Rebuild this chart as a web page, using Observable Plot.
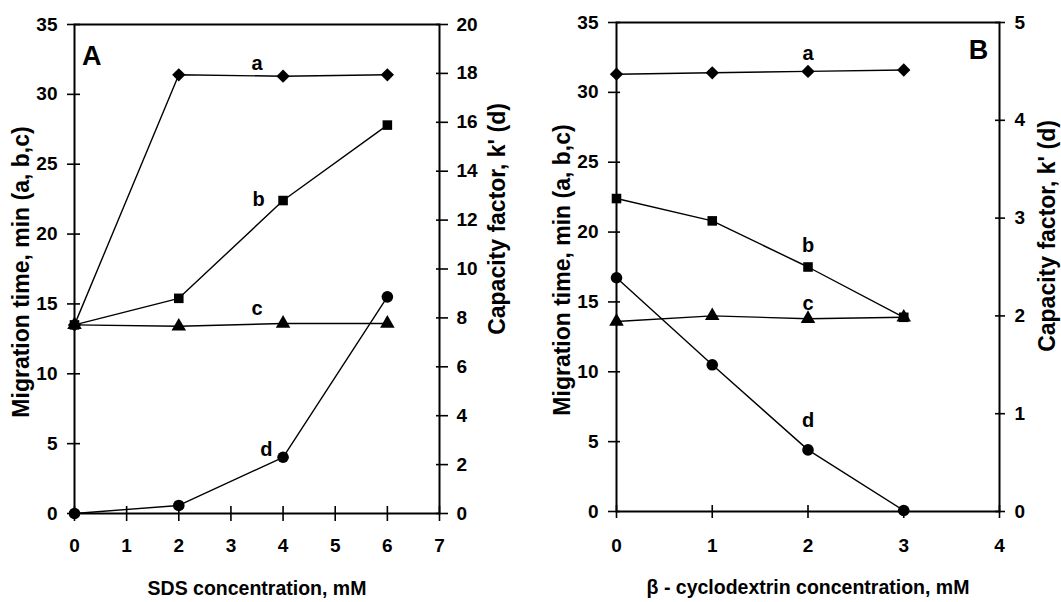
<!DOCTYPE html>
<html><head><meta charset="utf-8">
<script src="https://cdn.jsdelivr.net/npm/d3@7"></script>
<script src="https://cdn.jsdelivr.net/npm/@observablehq/plot@0.6"></script>
<style>
html,body{margin:0;padding:0;background:#fff;}
#wrap{display:flex;width:1061px;height:602px;overflow:hidden;}
#wrap svg{display:block;overflow:visible;}
</style></head><body><div id="wrap"></div>
<script>
// ---- Panel A: SDS concentration ----
const sdsConc = [0, 2, 4, 6];
const sdsTimeA = [13.5, 31.4, 31.3, 31.4];
const sdsTimeB = [13.5, 15.4, 22.4, 27.8];
const sdsTimeC = [13.5, 13.4, 13.6, 13.6];
const sdsKd = [0, 0.33, 2.3, 8.86];
const sdsXTicks = [0, 1, 2, 3, 4, 5, 6, 7];
const sdsKTicks = [0, 2, 4, 6, 8, 10, 12, 14, 16, 18, 20];
const sdsLabels = [
  {t: "a", x: 3.5, y: 32.2}, {t: "b", x: 3.53, y: 22.5},
  {t: "c", x: 3.5, y: 14.7}, {t: "d", x: 3.68, y: 4.6}
];

// ---- Panel B: beta-cyclodextrin concentration ----
const cdConc = [0, 1, 2, 3];
const cdTimeA = [31.3, 31.4, 31.5, 31.6];
const cdTimeB = [22.4, 20.8, 17.5, 13.9];
const cdTimeC = [13.6, 14.0, 13.8, 13.9];
const cdKd = [2.39, 1.5, 0.63, 0.01];
const cdXTicks = [0, 1, 2, 3, 4];
const cdKTicks = [0, 1, 2, 3, 4, 5];
const cdLabels = [
  {t: "a", x: 2.0, y: 32.8}, {t: "b", x: 2.0, y: 19.0},
  {t: "c", x: 2.0, y: 14.85}, {t: "d", x: 2.0, y: 6.5}
];

const timeTicks = [0, 5, 10, 15, 20, 25, 30, 35];
const font = "'Liberation Sans', Arial, Helvetica, sans-serif";

function panel(o) {
  const yk = k => k * 35 / o.kMax;
  const series = [
    {vals: o.a, symbol: "diamond2", r: 6},
    {vals: o.b, symbol: "square", r: 5.4},
    {vals: o.c, symbol: "triangle", r: 5.4},
    {vals: o.d.map(yk), symbol: "circle", r: 5.8}
  ];
  const marks = [Plot.frame({stroke: "black", strokeWidth: 2})];
  for (const s of series) {
    const pts = o.conc.map((x, i) => ({x, y: s.vals[i]}));
    marks.push(Plot.line(pts, {x: "x", y: "y", stroke: "black", strokeWidth: 1.4}));
  }
  for (const s of series) {
    const pts = o.conc.map((x, i) => ({x, y: s.vals[i]}));
    marks.push(Plot.dot(pts, {x: "x", y: "y", symbol: s.symbol, r: s.r, fill: "black", stroke: "none"}));
  }
  marks.push(Plot.text(o.labels, {x: "x", y: "y", text: "t", fontSize: 20, fontWeight: "bold", fontFamily: font, fill: "black"}));
  marks.push(Plot.text([o.letter], {x: () => o.letterX, y: () => o.letterY, text: d => d, fontSize: 27, fontWeight: "bold", fontFamily: font, fill: "black"}));
  // axes
  const axisFont = {fontSize: 19, fontWeight: "bold", fontFamily: font, strokeWidth: 1.6, label: null, color: "black"};
  marks.push(Plot.axisY(timeTicks, {anchor: "left", tickSize: o.lt.size, dx: o.lt.dx, tickPadding: o.lt.pad, ...axisFont}));
  marks.push(Plot.axisY(o.kTicks.map(yk), {anchor: "right", tickSize: o.rt.size, dx: o.rt.dx, tickPadding: o.rt.pad, tickFormat: v => String(Math.round(v * o.kMax / 35)), ...axisFont}));
  marks.push(Plot.axisX(o.xTicks, {anchor: "bottom", tickSize: o.bt.size, dy: o.bt.dy, tickPadding: o.bt.pad, ...axisFont}));
  // titles
  marks.push(Plot.text(["Migration time, min (a, b,c)"], {frameAnchor: "left", textAnchor: "middle", lineAnchor: "middle", rotate: -90, dx: o.lTitle.dx, dy: o.lTitle.dy, text: d => d, fontSize: 23, fontWeight: "bold", fontFamily: font, fill: "black"}));
  marks.push(Plot.text(["Capacity factor, k' (d)"], {frameAnchor: "right", textAnchor: "middle", lineAnchor: "middle", rotate: -90, dx: o.rTitle.dx, dy: o.rTitle.dy, text: d => d, fontSize: 23, fontWeight: "bold", fontFamily: font, fill: "black"}));
  marks.push(Plot.text([o.xTitle], {frameAnchor: "bottom", textAnchor: "middle", lineAnchor: "middle", dy: o.xTitleDy, text: d => d, fontSize: 19.5, fontWeight: "bold", fontFamily: font, fill: "black"}));

  return Plot.plot({
    width: o.width, height: 602,
    marginLeft: o.ml, marginRight: o.mr, marginTop: o.mt, marginBottom: o.mb,
    x: {domain: o.xDomain, axis: null},
    y: {domain: [0, 35], axis: null},
    style: {background: "white", color: "black", overflow: "visible", fontFamily: font},
    marks
  });
}

const wrap = document.getElementById("wrap");
wrap.appendChild(panel({
  width: 530, ml: 74, mr: 91, mt: 24, mb: 89,
  xDomain: [0, 7], xTicks: sdsXTicks, conc: sdsConc,
  a: sdsTimeA, b: sdsTimeB, c: sdsTimeC, d: sdsKd,
  kMax: 20, kTicks: sdsKTicks, labels: sdsLabels,
  letter: "A", letterX: 0.33, letterY: 32.7,
  lt: {size: 13, dx: 6, pad: 10}, rt: {size: 12, dx: -4, pad: 9}, bt: {size: 15, dy: -7, pad: 17},
  lTitle: {dx: -53, dy: 3}, rTitle: {dx: 58, dy: -50},
  xTitle: "SDS concentration, mM", xTitleDy: 75
}));
wrap.appendChild(panel({
  width: 531, ml: 86, mr: 62, mt: 22, mb: 91,
  xDomain: [0, 4], xTicks: cdXTicks, conc: cdConc,
  a: cdTimeA, b: cdTimeB, c: cdTimeC, d: cdKd,
  kMax: 5, kTicks: cdKTicks, labels: cdLabels,
  letter: "B", letterX: 3.78, letterY: 33.0,
  lt: {size: 12, dx: 4, pad: 10}, rt: {size: 10, dx: -5, pad: 10}, bt: {size: 13, dy: -6, pad: 20},
  lTitle: {dx: -54, dy: 3}, rTitle: {dx: 48, dy: -31},
  xTitle: "β - cyclodextrin concentration, mM", xTitleDy: 76
}));
</script>
</body></html>
